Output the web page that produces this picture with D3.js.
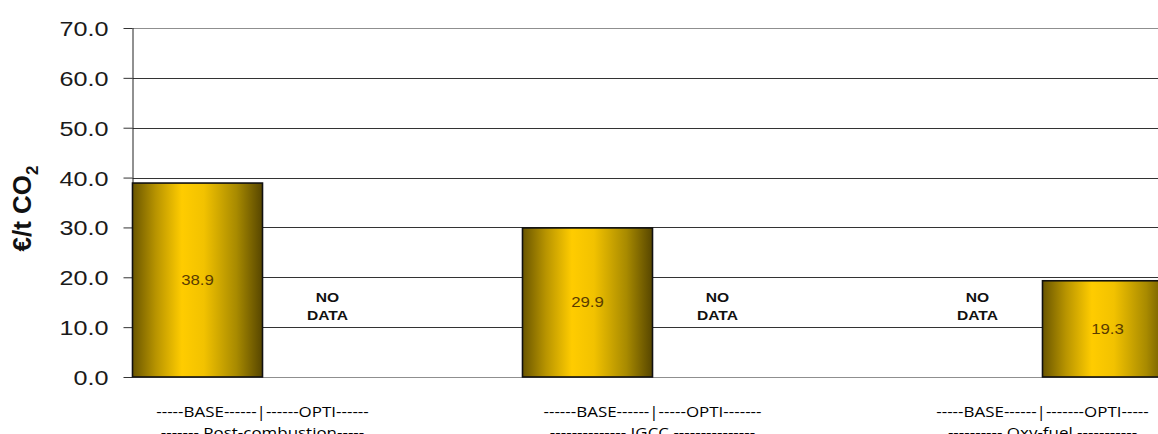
<!DOCTYPE html>
<html>
<head>
<meta charset="utf-8">
<script src="https://cdn.jsdelivr.net/npm/d3@7"></script>
<style>
  html, body { margin: 0; padding: 0; background: #fff; overflow: hidden; }
  svg { display: block; }
</style>
</head>
<body>
<svg id="chart" width="1158" height="434"></svg>
<script>
// Capture cost per tonne of CO2, by capture route and case
const slots = ["Post-combustion BASE", "Post-combustion OPTI", "gap-1",
               "IGCC BASE", "IGCC OPTI", "gap-2",
               "Oxy-fuel BASE", "Oxy-fuel OPTI"];
const costs = [38.9, null, null, 29.9, null, null, null, 19.3];
const missingSlots = ["Post-combustion OPTI", "IGCC OPTI", "Oxy-fuel BASE"];
const caseLabels = ["-----BASE------|------OPTI------",
                    "------BASE------|-----OPTI-------",
                    "-----BASE------|-------OPTI-----"];
const routeLabels = ["------- Post-combustion-----",
                     "-------------- IGCC ---------------",
                     "---------- Oxy-fuel -----------"];
const routeSplits = [["Post-combustion BASE", "Post-combustion OPTI"],
                     ["IGCC BASE", "IGCC OPTI"],
                     ["Oxy-fuel BASE", "Oxy-fuel OPTI"]];
const yTicks = [0, 10, 20, 30, 40, 50, 60, 70];

const svg = d3.select("#chart");
const W = 1158, H = 434;
const plotLeft = 132.5, plotTop = 28, plotBottom = 377;
const slotW = 130;
const stretch = 1.2;   // the chart's text is set slightly wide
const arial = "'Liberation Sans', Arial, sans-serif";

const x = d3.scaleBand().domain(slots).range([plotLeft, plotLeft + slotW * slots.length]).padding(0);
const y = d3.scaleLinear().domain([0, 70]).range([plotBottom, plotTop]);

// bar fill: dark olive edges, bright gold just left of centre
const defs = svg.append("defs");
const grad = defs.append("linearGradient").attr("id", "gold")
  .attr("x1", "0%").attr("x2", "100%").attr("y1", "0%").attr("y2", "0%");
[[0, "#6a5600"], [0.18, "#b89400"], [0.38, "#ffcc00"], [0.55, "#f2c200"], [0.8, "#a88a00"], [1, "#574600"]]
  .forEach(([o, c]) => grad.append("stop").attr("offset", o).attr("stop-color", c));

// horizontal gridlines
svg.append("g").selectAll("line").data(yTicks).join("line")
  .attr("x1", plotLeft).attr("x2", W)
  .attr("y1", d => Math.round(y(d)) + 0.5).attr("y2", d => Math.round(y(d)) + 0.5)
  .attr("stroke", d => (d === 0 || d === 70) ? "#8f8f8f" : "#333")
  .attr("stroke-width", 1);

// y axis
const yAxis = svg.append("g")
  .attr("transform", `translate(${plotLeft},0)`)
  .call(d3.axisLeft(y).tickValues(yTicks).tickFormat(d3.format(".1f")).tickSize(9));
yAxis.select(".domain").attr("stroke", "#222").attr("d", `M0.5,${plotTop}V${plotBottom}`);
yAxis.selectAll(".tick line").attr("stroke", "#333");
yAxis.selectAll(".tick text")
  .attr("x", -24 / stretch)
  .attr("dy", "0.36em")
  .attr("transform", `scale(${stretch},1)`)
  .attr("fill", "#1a1a1a")
  .style("font-family", arial)
  .style("font-size", "21px");

// y axis title
const yt = svg.append("text")
  .attr("transform", `translate(31,${(plotTop + plotBottom) / 2 + 6}) rotate(-90)`)
  .attr("text-anchor", "middle")
  .style("font-family", arial)
  .style("font-size", "26px").style("font-weight", "bold").attr("fill", "#111");
yt.append("tspan").text("€/t CO");
yt.append("tspan").attr("dy", 7).style("font-size", "17px").text("2");

// bars
const barData = slots.map((s, i) => ({ slot: s, value: costs[i] })).filter(d => d.value != null);
svg.append("g").selectAll("rect").data(barData).join("rect")
  .attr("x", d => x(d.slot))
  .attr("y", d => y(d.value))
  .attr("width", x.bandwidth())
  .attr("height", d => y(0) - y(d.value))
  .attr("fill", "url(#gold)")
  .attr("stroke", "#111").attr("stroke-width", 1.6);

// value labels inside bars
svg.append("g").selectAll("text").data(barData).join("text")
  .attr("transform", d => `translate(${x(d.slot) + x.bandwidth() / 2},${(y(d.value) + y(0)) / 2 + 5}) scale(${stretch},1)`)
  .attr("text-anchor", "middle")
  .style("font-family", arial)
  .style("font-size", "14px").attr("fill", "#5a3c00")
  .text(d => d.value.toFixed(1));

// "NO DATA" notes on slots without a value
const nd = svg.append("g").selectAll("g").data(missingSlots).join("g")
  .attr("transform", d => `translate(${x(d) + x.bandwidth() / 2},0) scale(${stretch},1)`);
nd.append("text").attr("y", y(10) - 25).attr("text-anchor", "middle")
  .style("font-family", arial).style("font-size", "13px").style("font-weight", "bold").attr("fill", "#111")
  .text("NO");
nd.append("text").attr("y", y(10) - 7).attr("text-anchor", "middle")
  .style("font-family", arial).style("font-size", "13px").style("font-weight", "bold").attr("fill", "#111")
  .text("DATA");

// category labels: case split and capture route
const catFont = "'Open Sans', 'Noto Sans', sans-serif";
const catStretch = 1.13;
svg.append("g").selectAll("text").data(routeSplits).join("text")
  .attr("transform", d => `translate(${x(d[1])},417) scale(${catStretch},1)`)
  .attr("text-anchor", "middle")
  .style("font-family", catFont).style("font-size", "15px").attr("fill", "#000")
  .text((d, i) => caseLabels[i]);
svg.append("g").selectAll("text").data(routeSplits).join("text")
  .attr("transform", d => `translate(${x(d[1])},438) scale(${catStretch},1)`)
  .attr("text-anchor", "middle")
  .style("font-family", catFont).style("font-size", "15px").attr("fill", "#000")
  .text((d, i) => routeLabels[i]);
</script>
</body>
</html>
